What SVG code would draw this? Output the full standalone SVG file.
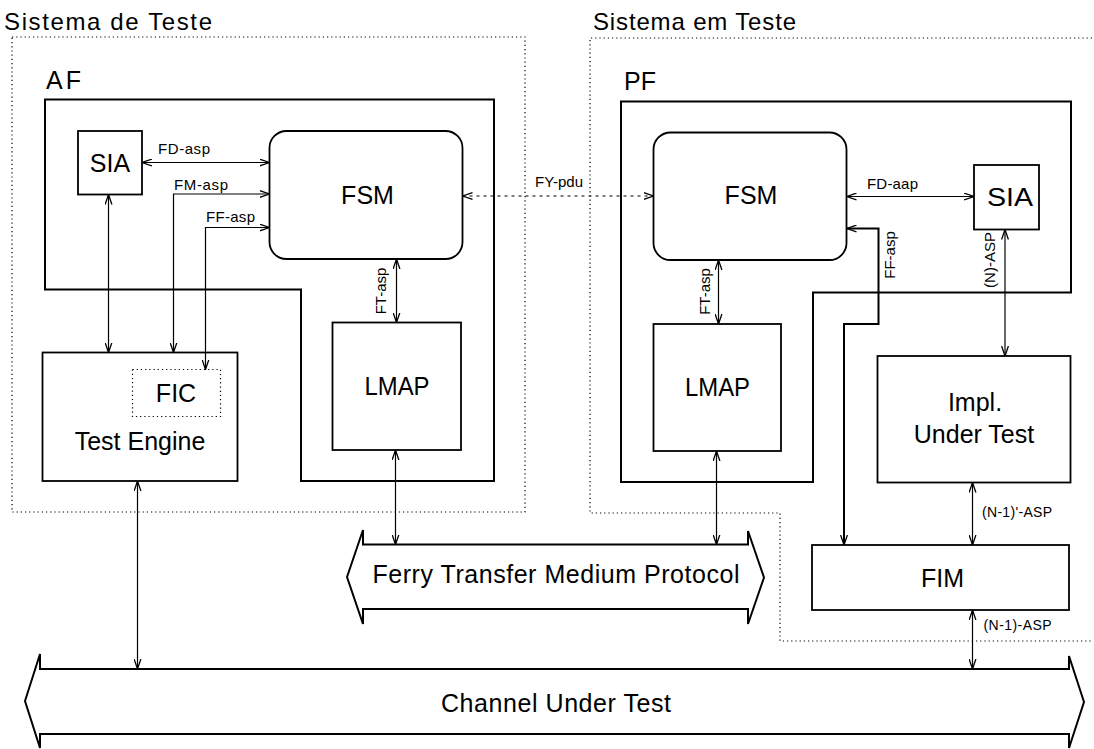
<svg xmlns="http://www.w3.org/2000/svg" width="1094" height="749" viewBox="0 0 1094 749">
<style>
text{font-family:"Liberation Sans",Arial,sans-serif;fill:#000}
.big{font-size:25px}
.ttl{font-size:24px}
.lbl{font-size:15px}
.sm{font-size:14px}
.frame{fill:none;stroke:#000;stroke-width:2}
.box{fill:#fff;stroke:#000;stroke-width:1.8}
.dot{fill:none;stroke:#000;stroke-width:1.2;stroke-dasharray:1.2 3}
.conn{fill:none;stroke:#000;stroke-width:1.2;marker-start:url(#ah);marker-end:url(#ah)}
.dash{stroke-dasharray:3 4}
.thick{stroke-width:2}
.band{fill:#fff;stroke:#000;stroke-width:2;stroke-linejoin:miter}
</style>
<defs>
<marker id="ah" markerUnits="userSpaceOnUse" viewBox="0 0 10 8" refX="10" refY="4" markerWidth="10" markerHeight="8" orient="auto-start-reverse">
<path d="M0,0.6 L10,4 L0,7.4" fill="none" stroke="#000" stroke-width="1.3"/>
</marker>
</defs>
<rect width="1094" height="749" fill="#fff"/>

<g id="sistema-de-teste">
<rect class="dot" x="12" y="37" width="513" height="475"/>
<text class="ttl" x="4" y="30" textLength="208" lengthAdjust="spacing">Sistema de Teste</text>
</g>
<g id="sistema-em-teste">
<path class="dot" d="M1092,38 H590 V513 H780 V641 H1092"/>
<text class="ttl" x="593" y="30" textLength="203" lengthAdjust="spacing">Sistema em Teste</text>
</g>

<g id="af">
<path class="frame" d="M45,99.5 H494 V481 H301 V289.5 H45 Z"/>
<text class="big" x="46" y="89" font-size="26" textLength="35" lengthAdjust="spacing">AF</text>
</g>
<g id="pf">
<path class="frame" d="M621,101.5 H1071 V292.5 H813 V482 H621 Z"/>
<text class="big" x="624" y="90" font-size="26">PF</text>
</g>

<g id="sia-left">
<rect class="box" x="78" y="131" width="64" height="63.5"/>
<text class="big" x="110" y="172" text-anchor="middle">SIA</text>
</g>
<g id="fsm-left">
<rect class="box" x="269.5" y="131" width="193" height="128" rx="17"/>
<text class="big" x="367.5" y="204" text-anchor="middle">FSM</text>
</g>
<g id="test-engine">
<rect class="box" x="42.5" y="352.5" width="195" height="128.5"/>
<text class="big" x="140" y="450" text-anchor="middle">Test Engine</text>
</g>
<g id="fic">
<rect class="dot" x="132.5" y="369.5" width="88" height="47"/>
<text class="big" x="176" y="401.5" text-anchor="middle">FIC</text>
</g>
<g id="lmap-left">
<rect class="box" x="332.5" y="322.5" width="128.5" height="127.5"/>
<text class="big" x="397" y="395" text-anchor="middle" textLength="65" lengthAdjust="spacingAndGlyphs">LMAP</text>
</g>

<g id="fsm-right">
<rect class="box" x="653.5" y="132.5" width="193" height="127.5" rx="17"/>
<text class="big" x="751" y="204" text-anchor="middle">FSM</text>
</g>
<g id="sia-right">
<rect class="box" x="974" y="165" width="65" height="64.5"/>
<text class="big" x="1010" y="206" text-anchor="middle" textLength="46" lengthAdjust="spacingAndGlyphs">SIA</text>
</g>
<g id="lmap-right">
<rect class="box" x="653.5" y="324" width="127.5" height="127"/>
<text class="big" x="717.5" y="395.5" text-anchor="middle" textLength="65" lengthAdjust="spacingAndGlyphs">LMAP</text>
</g>
<g id="impl-under-test">
<rect class="box" x="877.5" y="356" width="193" height="126.5"/>
<text class="big" x="975" y="411" text-anchor="middle">Impl.</text>
<text class="big" x="974" y="443" text-anchor="middle">Under Test</text>
</g>
<g id="fim">
<rect class="box" x="812" y="545" width="257" height="65"/>
<text class="big" x="942.5" y="587" text-anchor="middle">FIM</text>
</g>

<g id="ferry-transfer-medium-protocol">
<path class="band" d="M347,577 L363,530 V544.5 H748 V531 L764,577.5 L748,624 V609 H363 V624 Z"/>
<text class="big" x="372.5" y="582.5" textLength="367" lengthAdjust="spacing">Ferry Transfer Medium Protocol</text>
</g>
<g id="channel-under-test">
<path class="band" d="M25,701 L40,654 V669 H1069 V656 L1084,702 L1069,748 V734 H40 V748 Z"/>
<text class="big" x="441" y="711.5" textLength="230" lengthAdjust="spacing">Channel Under Test</text>
</g>

<g id="connectors">
<path class="conn" d="M142,162.5 H269.5"/>
<path class="conn" d="M269.5,194 H173.5 V352.5"/>
<path class="conn" d="M269.5,227.5 H205.5 V369.5"/>
<path class="conn" d="M108.5,194.5 V352.5"/>
<path class="conn" d="M396.5,259 V322.5"/>
<path class="conn" d="M395.5,450 V544.5"/>
<path class="conn" d="M137.5,481 V669"/>
<path class="conn dash" d="M462.5,196 H653.5"/>
<path class="conn" d="M846.5,196.5 H974"/>
<path class="conn thick" d="M846.5,228.5 H878.5 V324 H844 V545"/>
<path class="conn" d="M718.5,260 V324"/>
<path class="conn" d="M716.5,451 V544.5"/>
<path class="conn" d="M1005,229.5 V356"/>
<path class="conn" d="M972.5,482.5 V545"/>
<path class="conn" d="M972.5,610 V669"/>

<text class="lbl" x="158" y="154" textLength="52" lengthAdjust="spacing">FD-asp</text>
<text class="lbl" x="174" y="189.5" textLength="54" lengthAdjust="spacing">FM-asp</text>
<text class="lbl" x="206" y="221.5" textLength="49" lengthAdjust="spacing">FF-asp</text>
<text class="lbl" x="535" y="186.5" textLength="48" lengthAdjust="spacing">FY-pdu</text>
<text class="lbl" x="867" y="188.5" textLength="51" lengthAdjust="spacing">FD-aap</text>
<text class="lbl" transform="translate(386,291) rotate(-90)" text-anchor="middle">FT-asp</text>
<text class="lbl" transform="translate(710,291.5) rotate(-90)" text-anchor="middle">FT-asp</text>
<text class="lbl" transform="translate(895,255) rotate(-90)" text-anchor="middle">FF-asp</text>
<text class="lbl" transform="translate(995,260) rotate(-90)" text-anchor="middle">(N)-ASP</text>
<text class="sm" x="982" y="517" textLength="70" lengthAdjust="spacing">(N-1)'-ASP</text>
<text class="sm" x="983.5" y="630" textLength="68" lengthAdjust="spacing">(N-1)-ASP</text>
</g>
</svg>
